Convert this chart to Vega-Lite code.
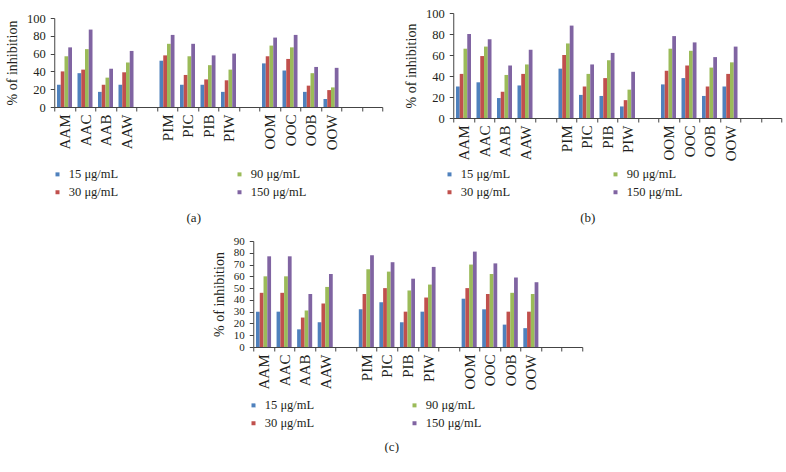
{
  "$schema": "https://vega.github.io/schema/vega-lite/v6.json",
  "padding": {"left": 5, "top": 7, "right": 5, "bottom": 0},
  "background": "white",
  "config": {
    "view": {"stroke": null},
    "font": "Liberation Serif",
    "axis": {"labelFont": "Liberation Serif", "titleFont": "Liberation Serif", "labelColor": "#231f20", "titleColor": "#231f20", "domainColor": "#444444", "tickColor": "#444444", "grid": false, "titleFontWeight": "normal"},
    "axisY": {"labelFont": "Liberation Serif", "titleFont": "Liberation Serif", "labelFontSize": 12.5, "titleFontSize": 14, "tickSize": 4, "labelPadding": 5, "titlePadding": 7, "labelOverlap": false},
    "axisX": {"labelFont": "Liberation Serif", "titleFont": "Liberation Serif", "labelFontSize": 15, "tickSize": 4, "labelPadding": 3, "labelAngle": 270, "tickBand": "extent", "titleFontSize": 13, "titleBaseline": "middle", "titleAlign": "center"},
    "legend": {"labelFont": "Liberation Serif", "labelFontSize": 12.5, "labelColor": "#231f20", "symbolType": "square", "symbolSize": 16, "labelOffset": 5, "rowPadding": 5, "title": null, "direction": "horizontal", "columns": 2}
  },
  "datasets": {
    "vals": [
      {"panel": "a", "cat": "AAM", "conc": "15 μg/mL", "value": 25}, {"panel": "a", "cat": "AAM", "conc": "30 μg/mL", "value": 40}, {"panel": "a", "cat": "AAM", "conc": "90 μg/mL", "value": 57}, {"panel": "a", "cat": "AAM", "conc": "150 μg/mL", "value": 67},
      {"panel": "a", "cat": "AAC", "conc": "15 μg/mL", "value": 38}, {"panel": "a", "cat": "AAC", "conc": "30 μg/mL", "value": 42}, {"panel": "a", "cat": "AAC", "conc": "90 μg/mL", "value": 65}, {"panel": "a", "cat": "AAC", "conc": "150 μg/mL", "value": 87},
      {"panel": "a", "cat": "AAB", "conc": "15 μg/mL", "value": 17}, {"panel": "a", "cat": "AAB", "conc": "30 μg/mL", "value": 25}, {"panel": "a", "cat": "AAB", "conc": "90 μg/mL", "value": 33}, {"panel": "a", "cat": "AAB", "conc": "150 μg/mL", "value": 43},
      {"panel": "a", "cat": "AAW", "conc": "15 μg/mL", "value": 25}, {"panel": "a", "cat": "AAW", "conc": "30 μg/mL", "value": 39}, {"panel": "a", "cat": "AAW", "conc": "90 μg/mL", "value": 50}, {"panel": "a", "cat": "AAW", "conc": "150 μg/mL", "value": 63},
      {"panel": "a", "cat": "PIM", "conc": "15 μg/mL", "value": 52}, {"panel": "a", "cat": "PIM", "conc": "30 μg/mL", "value": 58}, {"panel": "a", "cat": "PIM", "conc": "90 μg/mL", "value": 71}, {"panel": "a", "cat": "PIM", "conc": "150 μg/mL", "value": 81},
      {"panel": "a", "cat": "PIC", "conc": "15 μg/mL", "value": 25}, {"panel": "a", "cat": "PIC", "conc": "30 μg/mL", "value": 36}, {"panel": "a", "cat": "PIC", "conc": "90 μg/mL", "value": 57}, {"panel": "a", "cat": "PIC", "conc": "150 μg/mL", "value": 71},
      {"panel": "a", "cat": "PIB", "conc": "15 μg/mL", "value": 25}, {"panel": "a", "cat": "PIB", "conc": "30 μg/mL", "value": 31}, {"panel": "a", "cat": "PIB", "conc": "90 μg/mL", "value": 47}, {"panel": "a", "cat": "PIB", "conc": "150 μg/mL", "value": 58},
      {"panel": "a", "cat": "PIW", "conc": "15 μg/mL", "value": 17}, {"panel": "a", "cat": "PIW", "conc": "30 μg/mL", "value": 30}, {"panel": "a", "cat": "PIW", "conc": "90 μg/mL", "value": 42}, {"panel": "a", "cat": "PIW", "conc": "150 μg/mL", "value": 60},
      {"panel": "a", "cat": "OOM", "conc": "15 μg/mL", "value": 49}, {"panel": "a", "cat": "OOM", "conc": "30 μg/mL", "value": 57}, {"panel": "a", "cat": "OOM", "conc": "90 μg/mL", "value": 69}, {"panel": "a", "cat": "OOM", "conc": "150 μg/mL", "value": 78},
      {"panel": "a", "cat": "OOC", "conc": "15 μg/mL", "value": 41}, {"panel": "a", "cat": "OOC", "conc": "30 μg/mL", "value": 54}, {"panel": "a", "cat": "OOC", "conc": "90 μg/mL", "value": 67}, {"panel": "a", "cat": "OOC", "conc": "150 μg/mL", "value": 81},
      {"panel": "a", "cat": "OOB", "conc": "15 μg/mL", "value": 17}, {"panel": "a", "cat": "OOB", "conc": "30 μg/mL", "value": 24}, {"panel": "a", "cat": "OOB", "conc": "90 μg/mL", "value": 38}, {"panel": "a", "cat": "OOB", "conc": "150 μg/mL", "value": 45},
      {"panel": "a", "cat": "OOW", "conc": "15 μg/mL", "value": 9}, {"panel": "a", "cat": "OOW", "conc": "30 μg/mL", "value": 19}, {"panel": "a", "cat": "OOW", "conc": "90 μg/mL", "value": 22}, {"panel": "a", "cat": "OOW", "conc": "150 μg/mL", "value": 44},

      {"panel": "b", "cat": "AAM", "conc": "15 μg/mL", "value": 30}, {"panel": "b", "cat": "AAM", "conc": "30 μg/mL", "value": 42}, {"panel": "b", "cat": "AAM", "conc": "90 μg/mL", "value": 66}, {"panel": "b", "cat": "AAM", "conc": "150 μg/mL", "value": 80},
      {"panel": "b", "cat": "AAC", "conc": "15 μg/mL", "value": 34}, {"panel": "b", "cat": "AAC", "conc": "30 μg/mL", "value": 59}, {"panel": "b", "cat": "AAC", "conc": "90 μg/mL", "value": 68}, {"panel": "b", "cat": "AAC", "conc": "150 μg/mL", "value": 75},
      {"panel": "b", "cat": "AAB", "conc": "15 μg/mL", "value": 19}, {"panel": "b", "cat": "AAB", "conc": "30 μg/mL", "value": 25}, {"panel": "b", "cat": "AAB", "conc": "90 μg/mL", "value": 41}, {"panel": "b", "cat": "AAB", "conc": "150 μg/mL", "value": 50},
      {"panel": "b", "cat": "AAW", "conc": "15 μg/mL", "value": 31}, {"panel": "b", "cat": "AAW", "conc": "30 μg/mL", "value": 42}, {"panel": "b", "cat": "AAW", "conc": "90 μg/mL", "value": 51}, {"panel": "b", "cat": "AAW", "conc": "150 μg/mL", "value": 65},
      {"panel": "b", "cat": "PIM", "conc": "15 μg/mL", "value": 47}, {"panel": "b", "cat": "PIM", "conc": "30 μg/mL", "value": 60}, {"panel": "b", "cat": "PIM", "conc": "90 μg/mL", "value": 71}, {"panel": "b", "cat": "PIM", "conc": "150 μg/mL", "value": 88},
      {"panel": "b", "cat": "PIC", "conc": "15 μg/mL", "value": 22}, {"panel": "b", "cat": "PIC", "conc": "30 μg/mL", "value": 30}, {"panel": "b", "cat": "PIC", "conc": "90 μg/mL", "value": 42}, {"panel": "b", "cat": "PIC", "conc": "150 μg/mL", "value": 51},
      {"panel": "b", "cat": "PIB", "conc": "15 μg/mL", "value": 21}, {"panel": "b", "cat": "PIB", "conc": "30 μg/mL", "value": 38}, {"panel": "b", "cat": "PIB", "conc": "90 μg/mL", "value": 55}, {"panel": "b", "cat": "PIB", "conc": "150 μg/mL", "value": 62},
      {"panel": "b", "cat": "PIW", "conc": "15 μg/mL", "value": 11}, {"panel": "b", "cat": "PIW", "conc": "30 μg/mL", "value": 17}, {"panel": "b", "cat": "PIW", "conc": "90 μg/mL", "value": 27}, {"panel": "b", "cat": "PIW", "conc": "150 μg/mL", "value": 44},
      {"panel": "b", "cat": "OOM", "conc": "15 μg/mL", "value": 32}, {"panel": "b", "cat": "OOM", "conc": "30 μg/mL", "value": 45}, {"panel": "b", "cat": "OOM", "conc": "90 μg/mL", "value": 66}, {"panel": "b", "cat": "OOM", "conc": "150 μg/mL", "value": 78},
      {"panel": "b", "cat": "OOC", "conc": "15 μg/mL", "value": 38}, {"panel": "b", "cat": "OOC", "conc": "30 μg/mL", "value": 50}, {"panel": "b", "cat": "OOC", "conc": "90 μg/mL", "value": 64}, {"panel": "b", "cat": "OOC", "conc": "150 μg/mL", "value": 72},
      {"panel": "b", "cat": "OOB", "conc": "15 μg/mL", "value": 21}, {"panel": "b", "cat": "OOB", "conc": "30 μg/mL", "value": 30}, {"panel": "b", "cat": "OOB", "conc": "90 μg/mL", "value": 48}, {"panel": "b", "cat": "OOB", "conc": "150 μg/mL", "value": 58},
      {"panel": "b", "cat": "OOW", "conc": "15 μg/mL", "value": 30}, {"panel": "b", "cat": "OOW", "conc": "30 μg/mL", "value": 42}, {"panel": "b", "cat": "OOW", "conc": "90 μg/mL", "value": 53}, {"panel": "b", "cat": "OOW", "conc": "150 μg/mL", "value": 68},

      {"panel": "c", "cat": "AAM", "conc": "15 μg/mL", "value": 30}, {"panel": "c", "cat": "AAM", "conc": "30 μg/mL", "value": 46}, {"panel": "c", "cat": "AAM", "conc": "90 μg/mL", "value": 60}, {"panel": "c", "cat": "AAM", "conc": "150 μg/mL", "value": 77},
      {"panel": "c", "cat": "AAC", "conc": "15 μg/mL", "value": 30}, {"panel": "c", "cat": "AAC", "conc": "30 μg/mL", "value": 46}, {"panel": "c", "cat": "AAC", "conc": "90 μg/mL", "value": 60}, {"panel": "c", "cat": "AAC", "conc": "150 μg/mL", "value": 77},
      {"panel": "c", "cat": "AAB", "conc": "15 μg/mL", "value": 15}, {"panel": "c", "cat": "AAB", "conc": "30 μg/mL", "value": 25}, {"panel": "c", "cat": "AAB", "conc": "90 μg/mL", "value": 31}, {"panel": "c", "cat": "AAB", "conc": "150 μg/mL", "value": 45},
      {"panel": "c", "cat": "AAW", "conc": "15 μg/mL", "value": 21}, {"panel": "c", "cat": "AAW", "conc": "30 μg/mL", "value": 37}, {"panel": "c", "cat": "AAW", "conc": "90 μg/mL", "value": 51}, {"panel": "c", "cat": "AAW", "conc": "150 μg/mL", "value": 62},
      {"panel": "c", "cat": "PIM", "conc": "15 μg/mL", "value": 32}, {"panel": "c", "cat": "PIM", "conc": "30 μg/mL", "value": 45}, {"panel": "c", "cat": "PIM", "conc": "90 μg/mL", "value": 66}, {"panel": "c", "cat": "PIM", "conc": "150 μg/mL", "value": 78},
      {"panel": "c", "cat": "PIC", "conc": "15 μg/mL", "value": 38}, {"panel": "c", "cat": "PIC", "conc": "30 μg/mL", "value": 50}, {"panel": "c", "cat": "PIC", "conc": "90 μg/mL", "value": 64}, {"panel": "c", "cat": "PIC", "conc": "150 μg/mL", "value": 72},
      {"panel": "c", "cat": "PIB", "conc": "15 μg/mL", "value": 21}, {"panel": "c", "cat": "PIB", "conc": "30 μg/mL", "value": 30}, {"panel": "c", "cat": "PIB", "conc": "90 μg/mL", "value": 48}, {"panel": "c", "cat": "PIB", "conc": "150 μg/mL", "value": 58},
      {"panel": "c", "cat": "PIW", "conc": "15 μg/mL", "value": 30}, {"panel": "c", "cat": "PIW", "conc": "30 μg/mL", "value": 42}, {"panel": "c", "cat": "PIW", "conc": "90 μg/mL", "value": 53}, {"panel": "c", "cat": "PIW", "conc": "150 μg/mL", "value": 68},
      {"panel": "c", "cat": "OOM", "conc": "15 μg/mL", "value": 41}, {"panel": "c", "cat": "OOM", "conc": "30 μg/mL", "value": 50}, {"panel": "c", "cat": "OOM", "conc": "90 μg/mL", "value": 70}, {"panel": "c", "cat": "OOM", "conc": "150 μg/mL", "value": 81},
      {"panel": "c", "cat": "OOC", "conc": "15 μg/mL", "value": 32}, {"panel": "c", "cat": "OOC", "conc": "30 μg/mL", "value": 45}, {"panel": "c", "cat": "OOC", "conc": "90 μg/mL", "value": 62}, {"panel": "c", "cat": "OOC", "conc": "150 μg/mL", "value": 71},
      {"panel": "c", "cat": "OOB", "conc": "15 μg/mL", "value": 19}, {"panel": "c", "cat": "OOB", "conc": "30 μg/mL", "value": 30}, {"panel": "c", "cat": "OOB", "conc": "90 μg/mL", "value": 46}, {"panel": "c", "cat": "OOB", "conc": "150 μg/mL", "value": 59},
      {"panel": "c", "cat": "OOW", "conc": "15 μg/mL", "value": 16}, {"panel": "c", "cat": "OOW", "conc": "30 μg/mL", "value": 30}, {"panel": "c", "cat": "OOW", "conc": "90 μg/mL", "value": 45}, {"panel": "c", "cat": "OOW", "conc": "150 μg/mL", "value": 55}
    ]
  },
  "data": {"name": "vals"},
  "vconcat": [
    {
      "hconcat": [
        {
          "width": 328, "height": 94,
          "transform": [{"filter": "datum.panel == 'a'"}],
          "mark": {"type": "bar"},
          "encoding": {
            "x": {"field": "cat", "type": "nominal", "scale": {"domain": ["AAM","AAC","AAB","AAW","g1","PIM","PIC","PIB","PIW","g2","OOM","OOC","OOB","OOW","g3","g4"], "paddingInner": 0, "paddingOuter": 0}, "axis": {"labelExpr": "indexof(datum.label, 'g') == 0 ? '' : datum.label", "title": "(a)", "titleX": 139, "titleY": 110}},
            "xOffset": {"field": "conc", "type": "nominal", "scale": {"domain": ["15 μg/mL","30 μg/mL","90 μg/mL","150 μg/mL"], "paddingInner": 0, "paddingOuter": 0.73}},
            "y": {"field": "value", "type": "quantitative", "scale": {"domain": [0, 100], "range": [94, 5]}, "axis": {"values": [0,20,40,60,80,100], "title": "% of inhibition"}},
            "color": {"field": "conc", "type": "nominal", "scale": {"domain": ["15 μg/mL","90 μg/mL","30 μg/mL","150 μg/mL"], "range": ["#4F81BD","#9BBB59","#C0504D","#8064A2"]}, "legend": {"orient": "none", "legendX": -3, "legendY": 155, "columnPadding": 115}}
          }
        },
        {
          "width": 328, "height": 105,
          "transform": [{"filter": "datum.panel == 'b'"}],
          "mark": {"type": "bar"},
          "encoding": {
            "x": {"field": "cat", "type": "nominal", "scale": {"domain": ["AAM","AAC","AAB","AAW","g1","PIM","PIC","PIB","PIW","g2","OOM","OOC","OOB","OOW","g3","g4"], "paddingInner": 0, "paddingOuter": 0}, "axis": {"labelExpr": "indexof(datum.label, 'g') == 0 ? '' : datum.label", "title": "(b)", "titleX": 134, "titleY": 99}},
            "xOffset": {"field": "conc", "type": "nominal", "scale": {"domain": ["15 μg/mL","30 μg/mL","90 μg/mL","150 μg/mL"], "paddingInner": 0, "paddingOuter": 0.73}},
            "y": {"field": "value", "type": "quantitative", "scale": {"domain": [0, 100]}, "axis": {"values": [0,20,40,60,80,100], "title": "% of inhibition"}},
            "color": {"field": "conc", "type": "nominal", "scale": {"domain": ["15 μg/mL","90 μg/mL","30 μg/mL","150 μg/mL"], "range": ["#4F81BD","#9BBB59","#C0504D","#8064A2"]}, "legend": {"orient": "none", "legendX": -10, "legendY": 155, "columnPadding": 99}}
          }
        }
      ],
      "spacing": 21,
      "resolve": {"scale": {"color": "independent", "x": "independent", "y": "independent", "xOffset": "independent"}, "legend": {"color": "independent"}}
    },
    {
      "width": 329, "height": 106,
      "transform": [{"filter": "datum.panel == 'c'"}],
      "mark": {"type": "bar"},
      "encoding": {
        "x": {"field": "cat", "type": "nominal", "scale": {"domain": ["AAM","AAC","AAB","AAW","g1","PIM","PIC","PIB","PIW","g2","OOM","OOC","OOB","OOW","g3","g4"], "paddingInner": 0, "paddingOuter": 0}, "axis": {"labelExpr": "indexof(datum.label, 'g') == 0 ? '' : datum.label", "title": "(c)", "titleX": 138, "titleY": 99}},
        "xOffset": {"field": "conc", "type": "nominal", "scale": {"domain": ["15 μg/mL","30 μg/mL","90 μg/mL","150 μg/mL"], "paddingInner": 0, "paddingOuter": 0.73}},
        "y": {"field": "value", "type": "quantitative", "scale": {"domain": [0, 90]}, "axis": {"values": [0,10,20,30,40,50,60,70,80,90], "title": "% of inhibition", "labelFontSize": 11}},
        "color": {"field": "conc", "type": "nominal", "scale": {"domain": ["15 μg/mL","90 μg/mL","30 μg/mL","150 μg/mL"], "range": ["#4F81BD","#9BBB59","#C0504D","#8064A2"]}, "legend": {"orient": "none", "legendX": -6, "legendY": 158, "columnPadding": 94}}
      }
    }
  ],
  "spacing": 11,
  "center": true,
  "resolve": {"scale": {"color": "independent", "x": "independent", "y": "independent", "xOffset": "independent"}, "legend": {"color": "independent"}}
}
